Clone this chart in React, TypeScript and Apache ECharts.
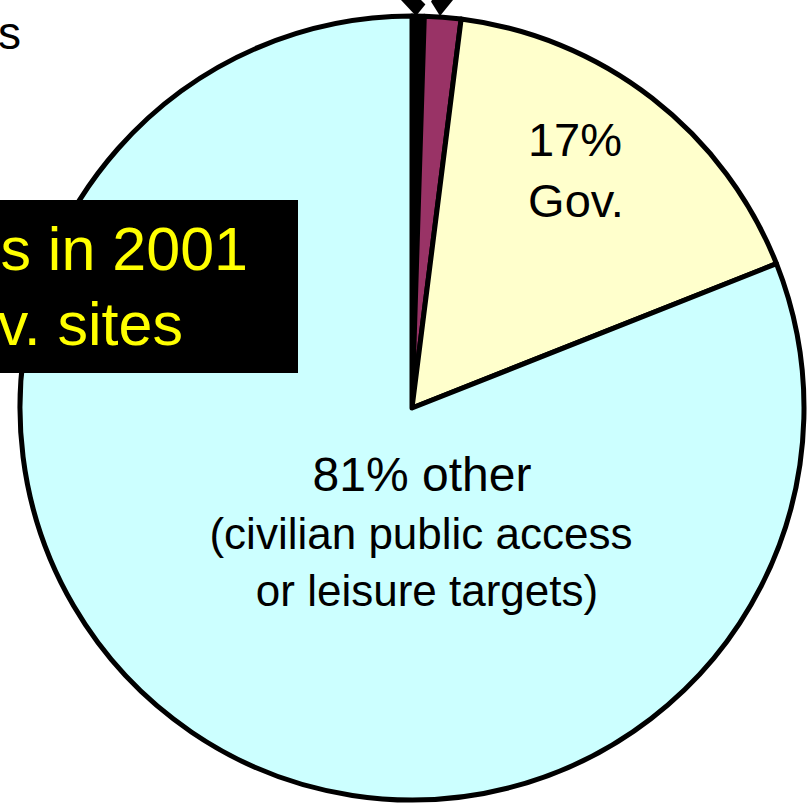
import React, { useEffect, useRef } from "react";
import * as echarts from "echarts";

const sliceNames = ["tiny", "magenta", "Gov.", "other"];
const sliceValues = [0.5, 1.5, 17, 81];
const sliceColors = ["#000000", "#993366", "#FFFFCC", "#CCFFFF"];

const govLines = ["17%", "Gov."];
const otherHead = "81% other";
const otherSub = ["(civilian public access", "or leisure targets)"];
const boxLines = ["s in 2001", "v. sites"];
const cornerText = "s";

export default function App() {
  const ref = useRef<HTMLDivElement>(null);
  useEffect(() => {
    if (!ref.current) return;
    const chart = echarts.init(ref.current, null, { renderer: "svg" });
    const font = "Liberation Sans, Arial, sans-serif";
    const txt = (text: string, x: number, baseline: number, size: number, align: string, fill = "#000", z = 10) => ({
      type: "text",
      x,
      y: baseline - Math.round(size * 0.88),
      style: { text, font: `${size}px ${font}`, fill, align, verticalAlign: "top" },
      z,
    });
    chart.setOption({
      animation: false,
      backgroundColor: "#ffffff",
      series: [
        {
          type: "pie",
          center: [412, 408],
          radius: 392,
          startAngle: 90,
          clockwise: true,
          label: { show: false },
          labelLine: { show: false },
          emphasis: { disabled: true },
          itemStyle: { borderColor: "#000000", borderWidth: 5 },
          data: sliceNames.map((n, i) => ({
            name: n,
            value: sliceValues[i],
            itemStyle: { color: sliceColors[i] },
          })),
        },
      ],
      graphic: [
        {
          type: "polygon",
          shape: { points: [[401, 0], [429, 0], [416, 16]] },
          style: { fill: "#000" },
          z: 10,
        },
        {
          type: "polygon",
          shape: { points: [[430, 0], [453, 0], [440, 16]] },
          style: { fill: "#000" },
          z: 10,
        },
        {
          type: "polygon",
          shape: { points: [[421, 0], [432, 0], [428, 7]] },
          style: { fill: "#fff" },
          z: 11,
        },
        txt(cornerText, 21, 50, 46, "right"),
        txt(govLines[0], 575, 157, 47, "center"),
        txt(govLines[1], 576, 218, 47, "center"),
        txt(otherHead, 422, 492, 48, "center"),
        txt(otherSub[0], 421, 550, 44, "center"),
        txt(otherSub[1], 427, 607, 44, "center"),
        {
          type: "rect",
          shape: { x: 0, y: 200, width: 298, height: 173 },
          style: { fill: "#000" },
          z: 20,
        },
        txt(boxLines[0], 248, 272, 61, "right", "#FFFF00", 21),
        txt(boxLines[1], 183, 347, 61, "right", "#FFFF00", 21),
      ],
    });
    return () => chart.dispose();
  }, []);
  return <div ref={ref} style={{ width: 807, height: 808, position: "absolute", left: 0, top: 0 }} />;
}
